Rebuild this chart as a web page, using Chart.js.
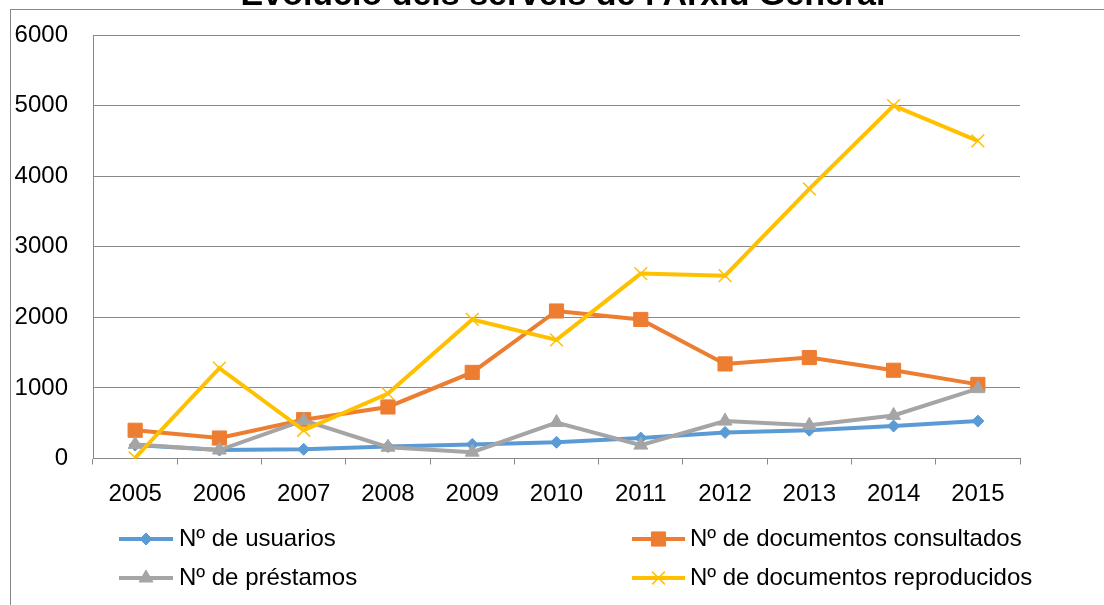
<!DOCTYPE html>
<html>
<head>
<meta charset="utf-8">
<script src="https://cdn.jsdelivr.net/npm/chart.js@4/dist/chart.umd.min.js"></script>
<style>
html,body{margin:0;padding:0;background:#fff;}
#wrap{width:1104px;height:605px;position:relative;}
</style>
</head>
<body>
<div id="wrap"><canvas id="c" width="1104" height="605"></canvas></div>
<script>
// ---- data ----
const chartTitle = "Evolució dels serveis de l'Arxiu General";
const years = ['2005','2006','2007','2008','2009','2010','2011','2012','2013','2014','2015'];
const seriesNames = ['Nº de usuarios','Nº de documentos consultados','Nº de préstamos','Nº de documentos reproducidos'];
const usuarios      = [190, 120, 130, 170, 200, 230, 290, 370, 400, 460, 530];
const consultados   = [400, 290, 550, 730, 1220, 2090, 1970, 1340, 1430, 1250, 1050];
const prestamos     = [200, 120, 540, 160, 90, 510, 190, 530, 470, 610, 990];
const reproducidos  = [10, 1280, 400, 920, 1970, 1680, 2620, 2590, 3820, 5000, 4500];
const yTickValues   = [0, 1000, 2000, 3000, 4000, 5000, 6000];
const yTickLabels   = ['0', '1000', '2000', '3000', '4000', '5000', '6000'];

const FONT = '"Liberation Sans", Arial, sans-serif';
const GRID = '#888888';

const colors = ['#5B9BD5', '#ED7D31', '#A5A5A5', '#FFC000'];
const styles = [
  {pointStyle:'rectRot', radius:6, pbw:1},
  {pointStyle:'rect', radius:10, pbw:1},
  {pointStyle:'triangle', radius:8, pbw:1},
  {pointStyle:'crossRot', radius:9, pbw:1.5}
];
const values = [usuarios, consultados, prestamos, reproducidos];
const orders = [4, 3, 2, 1];

const datasets = values.map((v, i) => ({
  label: seriesNames[i],
  data: v,
  borderColor: colors[i],
  backgroundColor: colors[i],
  borderWidth: 4,
  tension: 0,
  pointStyle: styles[i].pointStyle,
  pointRadius: styles[i].radius,
  pointBorderWidth: styles[i].pbw,
  pointBorderColor: colors[i],
  pointBackgroundColor: colors[i],
  order: orders[i],
  fill: false
}));

function drawMarker(ctx, style, radius, x, y, color, bw) {
  if (Chart.helpers && Chart.helpers.drawPoint) {
    ctx.save();
    ctx.fillStyle = color; ctx.strokeStyle = color; ctx.lineWidth = bw;
    Chart.helpers.drawPoint(ctx, {pointStyle: style, radius: radius, borderWidth: bw, rotation: 0}, x, y);
    ctx.restore();
  }
}

const framePlugin = {
  id: 'frame',
  beforeDraw(chart) {
    const ctx = chart.ctx;
    ctx.save();
    ctx.fillStyle = '#fff';
    ctx.fillRect(0, 0, chart.width, chart.height);
    ctx.strokeStyle = GRID;
    ctx.lineWidth = 1;
    ctx.strokeRect(10.5, 9.5, 1300, 800);
    ctx.restore();
  },
  afterDraw(chart) {
    const ctx = chart.ctx;
    ctx.save();
    // title (cropped at top like the reference)
    ctx.fillStyle = '#000';
    ctx.font = 'bold 34px ' + FONT;
    ctx.textAlign = 'center';
    ctx.textBaseline = 'alphabetic';
    ctx.fillText(chartTitle, 563, 5);
    // legend
    const pos = [
      {x0:119, x1:173, tx:179, y:539},
      {x0:632, x1:685, tx:690, y:539},
      {x0:119, x1:173, tx:179, y:578},
      {x0:632, x1:685, tx:690, y:578}
    ];
    chart.data.datasets.forEach((ds, i) => {
      const p = pos[i];
      ctx.strokeStyle = ds.borderColor;
      ctx.lineWidth = 4;
      ctx.beginPath();
      ctx.moveTo(p.x0, p.y); ctx.lineTo(p.x1, p.y);
      ctx.stroke();
      drawMarker(ctx, ds.pointStyle, ds.pointRadius, (p.x0 + p.x1) / 2, p.y, ds.borderColor, ds.pointBorderWidth);
      ctx.fillStyle = '#000';
      ctx.font = '24px ' + FONT;
      ctx.textAlign = 'left';
      ctx.textBaseline = 'middle';
      ctx.fillText(ds.label, p.tx, p.y);
    });
    ctx.restore();
  }
};

new Chart(document.getElementById('c'), {
  type: 'line',
  data: { labels: years, datasets: datasets },
  options: {
    responsive: false,
    animation: false,
    devicePixelRatio: 1,
    layout: { padding: { top: 20, right: 84, left: 0, bottom: 0 } },
    plugins: { legend: { display: false }, title: { display: false }, tooltip: { enabled: false } },
    scales: {
      x: {
        type: 'category',
        offset: true,
        grid: { display: true, drawOnChartArea: false, drawTicks: true, tickLength: 6, offset: true, color: GRID, lineWidth: 1 },
        border: { display: true, color: GRID, width: 1 },
        ticks: { color: '#000', font: { size: 24, family: FONT }, padding: 15, maxRotation: 0, autoSkip: false },
        afterFit(s) { s.height = 146.5; }
      },
      y: {
        min: 0, max: 6000,
        afterBuildTicks(s) { s.ticks = yTickValues.map(v => ({ value: v })); },
        grid: { color: GRID, lineWidth: 1, drawTicks: true, tickLength: 4.4, tickColor: 'rgba(0,0,0,0)' },
        border: { display: true, color: GRID, width: 1 },
        ticks: {
          color: '#000', font: { size: 24, family: FONT }, padding: 20.6,
          callback(value) { const k = yTickValues.indexOf(value); return k >= 0 ? yTickLabels[k] : ''; }
        },
        afterFit(s) { s.width = 93; }
      }
    }
  },
  plugins: [framePlugin]
});
</script>
</body>
</html>
